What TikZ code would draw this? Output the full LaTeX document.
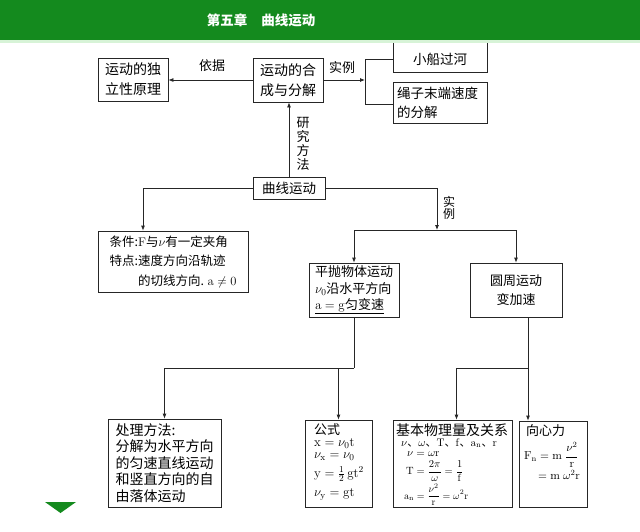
\documentclass[tikz,border=0pt]{standalone}
\usepackage{fix-cm}
\usepackage[no-math]{fontspec}
\setmainfont{Noto Sans CJK SC}
\usetikzlibrary{arrows.meta}
\definecolor{hdr}{RGB}{20,138,30}
\definecolor{hdrpale}{RGB}{215,243,215}
\newcommand{\fsz}[2]{\fontsize{#1}{#2}\selectfont}
\begin{document}
\begin{tikzpicture}[x=1pt,y=-1pt,
  box/.style={draw=black!85, line width=0.8pt, inner sep=0pt, fill=white},
  arr/.style={draw=black!85, line width=0.8pt, -{Latex[length=5pt,width=4pt]}},
  ln/.style={draw=black!85, line width=0.8pt},
  lbl/.style={inner sep=0pt, font=\fsz{13}{15}},
  txt/.style={inner sep=0pt, anchor=west}]
\useasboundingbox (0,0) rectangle (640,531);
\fill[white] (0,0) rectangle (640,531);

% boxes
\node[box, minimum width=70, minimum height=43, align=left, font=\fsz{14}{20}] (b1) at (133,79.5) {运动的独\\立性原理};
\node[box, minimum width=70, minimum height=44, align=left, font=\fsz{14}{20}] (b2) at (288,80) {运动的合\\成与分解};
\node[box, minimum width=94, minimum height=36] (b3) at (440,54) {};
\node[lbl, font=\fsz{13.5}{15}] (t3) at (440,59) {小船过河};
\node[box, minimum width=94, minimum height=41, align=left, text width=86, font=\fsz{13.5}{19}] (b4) at (440,102.5) {绳子末端速度\\的分解};
\node[box, minimum width=72, minimum height=22, font=\fsz{13.5}{15}] (cv) at (289,188) {曲线运动};
\node[box, minimum width=150, minimum height=61, align=left, font=\fsz{12.5}{19.5}] (b5) at (173,261.5)
  {条件:$\mathrm{F}$与$\nu$有一定夹角\\特点:速度方向沿轨迹\\\phantom{特点:}的切线方向. $\mathrm{a}\neq0$};
\node[box, minimum width=90, minimum height=54, align=left, font=\fsz{13}{16.5}] (b6) at (354,290)
  {平抛物体运动\\$\nu_0$沿水平方向\\\underline{$\mathrm{a}=\mathrm{g}$匀变速}};
\node[box, minimum width=92, minimum height=54, align=center, font=\fsz{13}{19}] (b7) at (516,290) {圆周运动\\变加速};
\node[box, minimum width=113, minimum height=88, align=left, font=\fsz{14}{16.5}] (b8) at (164.5,463)
  {处理方法:\\分解为水平方向\\的匀速直线运动\\和竖直方向的自\\由落体运动};

% formula box
\node[box, minimum width=67, minimum height=87] (b9) at (338.5,463.5) {};
\node[txt, font=\fsz{13}{14}] (f1) at (314,430) {公式};
\node[txt, font=\fsz{13}{14}] (f2) at (314,443.5) {$\mathrm{x}=\nu_0\mathrm{t}$};
\node[txt, font=\fsz{13}{14}] (f3) at (314,456.5) {$\nu_{\mathrm{x}}=\nu_0$};
\node[txt, font=\fsz{13}{14}] (f4) at (314,474) {$\mathrm{y}=\frac{1}{2}\,\mathrm{g}\mathrm{t}^2$};
\node[txt, font=\fsz{13}{14}] (f5) at (314,494) {$\nu_{\mathrm{y}}=\mathrm{g}\mathrm{t}$};

% basic quantities box
\node[box, minimum width=119, minimum height=87] (b10) at (452.5,463.5) {};
\node[txt, font=\fsz{14}{15}] (g1) at (396,430) {基本物理量及关系};
\node[txt, font=\fsz{11}{12}] (g2) at (401,443) {$\nu$、$\omega$、$\mathrm{T}$、$\mathrm{f}$、$\mathrm{a_n}$、$\mathrm{r}$};
\node[txt, font=\fsz{11}{12}] (g3) at (407,454) {$\nu=\omega\mathrm{r}$};
\node[txt, font=\fsz{10.5}{12}] (g4) at (406,471) {$\displaystyle\mathrm{T}=\frac{2\pi}{\omega}=\frac{1}{\mathrm{f}}$};
\node[txt, font=\fsz{10}{12}] (g5) at (404,495) {$\displaystyle\mathrm{a_n}=\frac{\nu^2}{\mathrm{r}}=\omega^2\mathrm{r}$};

% centripetal force box
\node[box, minimum width=68, minimum height=86] (b11) at (553,464) {};
\node[txt, font=\fsz{13}{14}] (h1) at (526,431) {向心力};
\node[txt, font=\fsz{11.5}{12}] (h2) at (524,455) {$\mathrm{F_n}=\mathrm{m}\;\displaystyle\frac{\nu^2}{\mathrm{r}}$};
\node[txt, font=\fsz{11.5}{12}] (h3) at (538,475) {$=\mathrm{m}\;\omega^2\mathrm{r}$};

% connectors top
\draw[arr] (b2.west) -- (b2.west -| b1.east);
\node[lbl] (l1) at (212,66) {依据};
\coordinate (br) at (365,80);
\draw[arr] (b2.east) -- (br);
\node[lbl] (l2) at (342,68) {实例};
\coordinate (brT) at (365,59);
\coordinate (brB) at (365,104);
\draw[ln] (b3.west |- brT) -- (brT) -- (brB) -- (b4.west |- brB);
\draw[arr] (cv.north) -- (cv.north |- b2.south);
\node[lbl, align=center, font=\fsz{13}{14.2}] (l3) at (303,144) {研\\究\\方\\法};

% curve motion branches
\draw[arr] (cv.west) -| ([xshift=-30]b5.north);
\coordinate (j1) at (437,230);
\draw[arr] (cv.east) -| (j1);
\node[lbl, align=center, font=\fsz{12}{12.5}] (l4) at (449,208) {实\\例};
\draw[arr] (j1) -| (b6.north);
\draw[arr] (j1) -| (b7.north);

% lower branches
\coordinate (j2) at (355,368);
\draw[ln] (b6.south) -- (b6.south |- j2);
\draw[arr] (b6.south |- j2) -| (b8.north);
\draw[arr] (b9.north |- j2) -- (b9.north);
\coordinate (j3) at (528,368);
\draw[arr] (j3 |- b7.south) -- (j3 |- b11.north);
\draw[arr] (j3) -| ([xshift=4]b10.north);

% header
\fill[hdr] (0,0) rectangle (640,39.5);
\fill[hdrpale] (0,39.5) rectangle (640,42.5);
\node[text=white, font=\bfseries\fsz{13.5}{15}, inner sep=0pt] (title) at (261,20) {第五章\hspace{14pt}曲线运动};
\fill[hdr] (45,502) -- (76,502) -- (60.5,513) -- cycle;
\end{tikzpicture}
\end{document}
